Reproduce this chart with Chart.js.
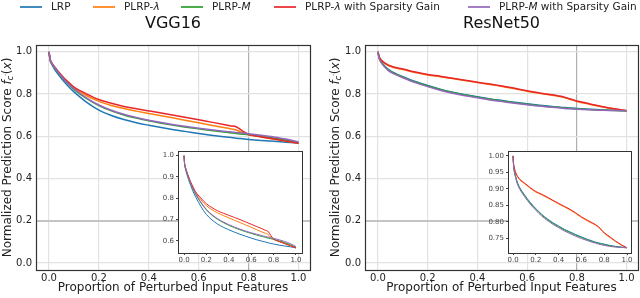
<!DOCTYPE html>
<html>
<head>
<meta charset="utf-8">
<script src="https://cdn.jsdelivr.net/npm/chart.js@4/dist/chart.umd.min.js"></script>
<style>
  body { margin: 0; width: 640px; height: 298px; position: relative; overflow: hidden; background: #fff; font-family: "DejaVu Sans", sans-serif; }
  canvas { position: absolute; }
  .key { position: absolute; top: 6px; width: 22px; height: 1.5px; opacity: 0.85; }
  .lab { position: absolute; top: 0; font-size: 10.5px; line-height: 13px; color: #222; white-space: nowrap; }
</style>
</head>
<body>
<canvas id="vgg" width="320" height="298" style="left:0;top:0"></canvas>
<canvas id="res" width="320" height="298" style="left:320px;top:0"></canvas>
<canvas id="vggInset" width="160" height="130" style="left:150px;top:140px"></canvas>
<canvas id="resInset" width="160" height="130" style="left:480px;top:140px"></canvas>
<div id="legend"></div>
<script>
// proportion of perturbed input features
const xs = [0, 0.005, 0.01, 0.02, 0.04, 0.06, 0.08, 0.1, 0.15, 0.2, 0.25, 0.3, 0.35, 0.4, 0.45, 0.5, 0.55, 0.6, 0.65, 0.7, 0.725, 0.75, 0.775, 0.8, 0.85, 0.9, 0.95, 1.0]

const names = ['LRP', 'PLRP-<i>λ</i>', 'PLRP-<i>M</i>', 'PLRP-<i>λ</i> with Sparsity Gain', 'PLRP-<i>M</i> with Sparsity Gain']
const colors = ['#1f77b4', '#ff7f0e', '#2ca02c', '#e8262a', '#9467bd']

// VGG16
const vggLRP = [1, .958, .943, .922, .888, .859, .833, .81, .762, .724, .698, .679, .664, .652, .641, .631, .622, .613, .605, .598, .595, .591, .588, .585, .58, .576, .572, .567]
const vggLam = [1, .962, .949, .931, .9, .873, .851, .83, .793, .765, .746, .731, .719, .708, .697, .686, .675, .664, .652, .641, .636, .63, .617, .607, .597, .587, .577, .567]
const vggM = [1, .961, .947, .928, .896, .867, .844, .822, .779, .745, .72, .701, .686, .673, .662, .652, .643, .635, .627, .62, .617, .613, .61, .607, .6, .592, .582, .57]
const vggLamSG = [1, .963, .95, .933, .903, .876, .854, .833, .801, .774, .756, .741, .73, .72, .71, .7, .689, .678, .667, .656, .65, .645, .626, .609, .597, .587, .577, .567]
const vggMSG = [1, .962, .948, .93, .898, .869, .846, .825, .782, .748, .723, .704, .689, .676, .665, .655, .646, .638, .631, .624, .621, .618, .615, .612, .605, .597, .587, .573]

// ResNet50
const resLRP = [1, .972, .958, .942, .918, .903, .892, .882, .859, .84, .823, .809, .797, .787, .777, .769, .761, .754, .747, .741, .738, .736, .734, .732, .728, .725, .723, .721]
const resLam = [1, .975, .965, .952, .936, .927, .921, .916, .902, .89, .882, .873, .864, .854, .845, .836, .825, .813, .803, .794, .789, .783, .774, .765, .752, .74, .729, .721]
const resM = [1, .971, .957, .94, .916, .901, .89, .88, .857, .838, .821, .807, .795, .785, .775, .767, .759, .752, .745, .739, .737, .734, .732, .73, .727, .724, .722, .721]
const resLamSG = [1, .976, .966, .953, .938, .929, .923, .918, .904, .892, .884, .875, .865, .856, .847, .838, .827, .815, .805, .796, .791, .785, .776, .767, .754, .741, .73, .721]
const resMSG = [1, .97, .955, .938, .913, .898, .887, .877, .854, .835, .818, .804, .792, .782, .772, .764, .756, .749, .743, .737, .735, .732, .73, .728, .725, .723, .722, .721]

const xTicks = [0, 0.2, 0.4, 0.6, 0.8, 1.0]
const yTicksMain = [0, 0.2, 0.4, 0.6, 0.8, 1.0]
const yTicksVggInset = [0.6, 0.7, 0.8, 0.9, 1.0]
const yTicksResInset = [0.75, 0.8, 0.85, 0.9, 0.95, 1.0]

Chart.defaults.font.family = '"DejaVu Sans"'
Chart.defaults.color = '#222'

// legend (spans both panels)
const keyX = [20, 93, 181, 274, 468]
const legend = document.getElementById('legend')
names.forEach((n, i) => {
  const k = document.createElement('div')
  k.className = 'key'
  k.style.left = keyX[i] + 'px'
  k.style.background = colors[i]
  legend.appendChild(k)
  const t = document.createElement('div')
  t.className = 'lab'
  t.style.left = (keyX[i] + 31) + 'px'
  t.innerHTML = n
  legend.appendChild(t)
})

function drawYLabel(c, cx, cy) {
  const parts = [
    { t: 'Normalized Prediction Score ', f: '12px "DejaVu Sans"', dy: 0 },
    { t: 'f', f: 'italic 12px "DejaVu Sans"', dy: 0 },
    { t: 'c', f: 'italic 8.5px "DejaVu Sans"', dy: 3 },
    { t: '′', f: '7px "DejaVu Sans"', dy: 0 },
    { t: '(', f: '12px "DejaVu Sans"', dy: 0 },
    { t: 'x', f: 'italic 12px "DejaVu Sans"', dy: 0 },
    { t: ')', f: '12px "DejaVu Sans"', dy: 0 }
  ]
  let w = 0
  parts.forEach(p => { c.font = p.f; p.w = c.measureText(p.t).width; w += p.w })
  c.save()
  c.translate(cx, cy)
  c.rotate(-Math.PI / 2)
  c.fillStyle = '#222'
  c.textBaseline = 'middle'
  c.textAlign = 'left'
  let x = -w / 2
  parts.forEach(p => { c.font = p.f; c.fillText(p.t, x, p.dy); x += p.w })
  c.restore()
}

const decor = {
  id: 'decor',
  beforeDraw(chart, args, o) {
    if (!o.fill) return
    const a = chart.chartArea, c = chart.ctx
    c.save()
    c.fillStyle = '#fff'
    c.fillRect(a.left, a.top, a.right - a.left, a.bottom - a.top)
    c.restore()
  },
  afterDatasetsDraw(chart, args, o) {
    const a = chart.chartArea, c = chart.ctx
    c.save()
    c.strokeStyle = '#333'
    c.lineWidth = o.frameWidth || 1
    c.strokeRect(Math.round(a.left) + 0.5, Math.round(a.top) + 0.5, Math.round(a.right - a.left), Math.round(a.bottom - a.top))
    c.restore()
  },
  afterDraw(chart, args, o) {
    const a = chart.chartArea, c = chart.ctx
    if (o.title) {
      c.save()
      c.font = '16px "DejaVu Sans"'
      c.fillStyle = '#111'
      c.textAlign = 'center'
      c.textBaseline = 'middle'
      c.fillText(o.title, (a.left + a.right) / 2, 24)
      c.restore()
    }
    if (o.ylabelX != null) drawYLabel(c, o.ylabelX, (a.top + a.bottom) / 2)
  }
}

function lines(series, width) {
  return series.map((ys, i) => ({
    label: names[i],
    data: xs.map((x, j) => ({ x: x, y: ys[j] })),
    borderColor: colors[i],
    borderWidth: width,
    pointRadius: 0,
    fill: false,
    cubicInterpolationMode: 'monotone',
    order: series.length - i
  }))
}

function mainChart(id, series, title, yw, padRight, ylabelX) {
  return new Chart(document.getElementById(id), {
    type: 'line',
    data: { datasets: lines(series, 1.5) },
    plugins: [decor],
    options: {
      responsive: false,
      animation: false,
      events: [],
      layout: { padding: { top: 45, right: padRight, left: 0, bottom: 0 } },
      plugins: {
        legend: { display: false },
        tooltip: { enabled: false },
        decor: { title: title, ylabelX: ylabelX, frameWidth: 1.2 }
      },
      scales: {
        x: {
          type: 'linear', min: -0.052, max: 1.046,
          afterBuildTicks: s => { s.ticks = xTicks.map(v => ({ value: v })) },
          afterFit: s => { s.height = 28 },
          ticks: { callback: v => v.toFixed(1), font: { size: 10 }, padding: 2, maxRotation: 0, autoSkip: false },
          grid: { color: c => c.tick && c.tick.value === 0.8 ? '#b0b0b0' : '#e2e2e2', lineWidth: 1.2, drawTicks: false },
          border: { display: false },
          title: { display: true, text: 'Proportion of Perturbed Input Features', font: { size: 12 }, padding: { top: 0, bottom: 3 } }
        },
        y: {
          type: 'linear', min: -0.033, max: 1.032,
          afterBuildTicks: s => { s.ticks = yTicksMain.map(v => ({ value: v })) },
          afterFit: s => { s.width = yw },
          ticks: { callback: v => v.toFixed(1), font: { size: 10 }, padding: 4, autoSkip: false },
          grid: { color: c => c.tick && c.tick.value === 0.2 ? '#c4c4c4' : '#e2e2e2', lineWidth: c => c.tick && c.tick.value === 0.2 ? 2 : 1.2, drawTicks: false },
          border: { display: false }
        }
      }
    }
  })
}

function insetChart(id, series, yTicks, ymin, ymax, xmin, xmax, dec, padTop, padRight) {
  return new Chart(document.getElementById(id), {
    type: 'line',
    data: { datasets: lines(series, 1) },
    plugins: [decor],
    options: {
      responsive: false,
      animation: false,
      events: [],
      layout: { padding: { top: padTop, right: padRight, left: 0, bottom: 0 } },
      plugins: {
        legend: { display: false },
        tooltip: { enabled: false },
        decor: { fill: true, frameWidth: 1 }
      },
      scales: {
        x: {
          type: 'linear', min: xmin, max: xmax,
          afterBuildTicks: s => { s.ticks = xTicks.map(v => ({ value: v })) },
          afterFit: s => { s.height = 17 },
          ticks: { callback: v => v.toFixed(1), font: { size: 7 }, color: '#444', padding: 1, maxRotation: 0, autoSkip: false },
          grid: { drawOnChartArea: false, tickLength: 2, color: '#444' },
          border: { display: false }
        },
        y: {
          type: 'linear', min: ymin, max: ymax,
          afterBuildTicks: s => { s.ticks = yTicks.map(v => ({ value: v })) },
          afterFit: s => { s.width = 28 },
          ticks: { callback: v => v.toFixed(dec), font: { size: 7 }, color: '#444', padding: 2, autoSkip: false },
          grid: { drawOnChartArea: false, tickLength: 2, color: '#444' },
          border: { display: false }
        }
      }
    }
  })
}

mainChart('vgg', [vggLRP, vggLam, vggM, vggLamSG, vggMSG], 'VGG16', 36, 10, 8)
mainChart('res', [resLRP, resLam, resM, resLamSG, resMSG], 'ResNet50', 45, 2, 16)
insetChart('vggInset', [vggLRP, vggLam, vggM, vggLamSG, vggMSG], yTicksVggInset, 0.543, 1.022, -0.054, 1.054, 1, 11, 8)
insetChart('resInset', [resLRP, resLam, resM, resLamSG, resMSG], yTicksResInset, 0.705, 1.015, -0.044, 1.035, 2, 11, 9)
</script>
</body>
</html>
